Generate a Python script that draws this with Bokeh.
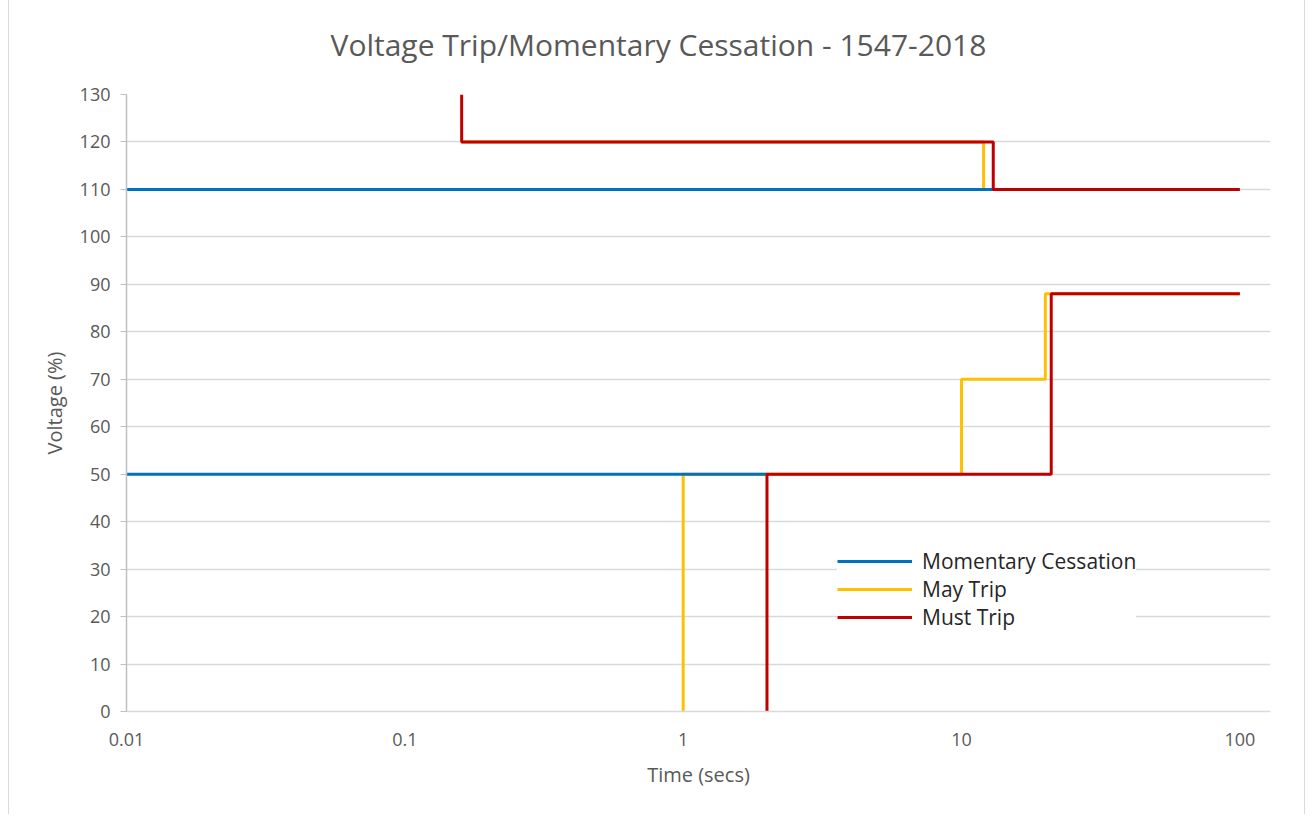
from bokeh.plotting import figure
from bokeh.models import (FixedTicker, Legend, LegendItem, Range1d, Title)
from bokeh.embed import file_html
from bokeh.resources import INLINE

# ---- data ----
mc_high_t = [0.01, 13]
mc_high_v = [110, 110]
mc_low_t = [0.01, 2]
mc_low_v = [50, 50]

may_high_t = [0.16, 12, 12, 100]
may_high_v = [120, 120, 110, 110]
may_low_t = [1, 1, 10, 10, 20, 20, 100]
may_low_v = [0, 50, 50, 70, 70, 88, 88]

must_high_t = [0.16, 0.16, 13, 13, 100]
must_high_v = [130, 120, 120, 110, 110]
must_low_t = [2, 2, 21, 21, 100]
must_low_v = [0, 50, 50, 88, 88]

x_ticks = [0.01, 0.1, 1, 10, 100]
x_tick_labels = ["0.01", "0.1", "1", "10", "100"]
y_ticks = list(range(0, 131, 10))
title_text = "Voltage Trip/Momentary Cessation - 1547-2018"

BLUE = "#0070C0"
YELLOW = "#FFC000"
RED = "#C00000"
GRID = "#D9D9D9"
TXT = "#595959"
FONT = "Open Sans"

p = figure(width=1297, height=824, x_axis_type="log",
           x_range=Range1d(0.01, 10 ** 2.11), y_range=Range1d(0, 130),
           output_backend="svg", toolbar_location=None,
           min_border_left=117, min_border_right=36,
           min_border_top=0, min_border_bottom=104)

p.title = Title(text=title_text, align="left", offset=204, standoff=60,
                text_font=FONT, text_font_size="30px",
                text_color=TXT, text_font_style="normal")

lw = 3
ry1 = p.line(may_high_t, may_high_v, color=YELLOW, line_width=lw)
ry2 = p.line(may_low_t, may_low_v, color=YELLOW, line_width=lw)
rb1 = p.line(mc_high_t, mc_high_v, color=BLUE, line_width=lw)
rb2 = p.line(mc_low_t, mc_low_v, color=BLUE, line_width=lw)
rr1 = p.line(must_high_t, must_high_v, color=RED, line_width=lw)
rr2 = p.line(must_low_t, must_low_v, color=RED, line_width=lw)

legend = Legend(items=[
    LegendItem(label="Momentary Cessation", renderers=[rb1]),
    LegendItem(label="May Trip", renderers=[ry1]),
    LegendItem(label="Must Trip", renderers=[rr1]),
], location=(711, 80), label_text_font=FONT, label_text_font_size="21px",
    label_text_color="#262626", glyph_width=75, glyph_height=28,
    label_height=28, label_standoff=10, spacing=0, padding=22, margin=0,
    border_line_color=None, background_fill_color="white",
    background_fill_alpha=1.0)
p.add_layout(legend, "center")

p.xaxis.ticker = FixedTicker(ticks=x_ticks)
p.xaxis.major_label_overrides = {t: l for t, l in zip(x_ticks, x_tick_labels)}
p.yaxis.ticker = FixedTicker(ticks=y_ticks)

for ax in (p.xaxis, p.yaxis):
    ax.axis_line_color = "#BFBFBF"
    ax.axis_line_width = 1.5
    ax.major_label_text_font = FONT
    ax.major_label_text_font_size = "18px"
    ax.major_label_text_color = TXT
    ax.axis_label_text_font = FONT
    ax.axis_label_text_font_size = "20px"
    ax.axis_label_text_color = TXT
    ax.axis_label_text_font_style = "normal"
    ax.minor_tick_line_color = None

p.xaxis.axis_line_color = GRID
p.xaxis.major_tick_line_color = None
p.xaxis.major_label_standoff = 15
p.xaxis.axis_label = "Time (secs)"
p.xaxis.axis_label_standoff = 12

p.yaxis.major_tick_line_color = "#BFBFBF"
p.yaxis.major_tick_out = 6
p.yaxis.major_tick_in = 0
p.yaxis.major_label_standoff = 10
p.yaxis.axis_label = "Voltage (%)"
p.yaxis.axis_label_standoff = 9

p.xgrid.grid_line_color = None
p.ygrid.grid_line_color = GRID
p.ygrid.grid_line_width = 1.5
p.outline_line_color = None
p.background_fill_color = "white"
p.border_fill_color = "white"
p.styles = {"border-left": "1px solid #D9D9D9", "border-right": "1px solid #D9D9D9",
            "border-top": "1px solid #D9D9D9", "margin-left": "8px",
            "margin-top": "-10px"}

open("out.html", "w").write(file_html(p, INLINE))
